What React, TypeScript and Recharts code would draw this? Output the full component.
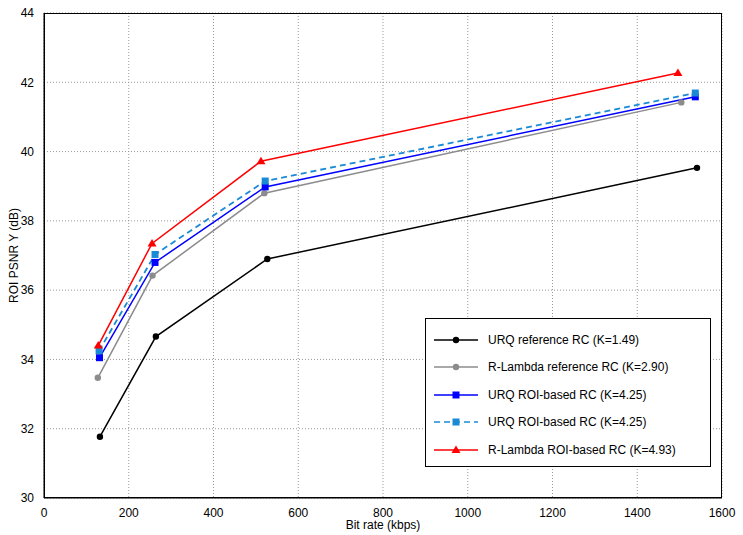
import React from 'react';
import { LineChart, Line, XAxis, YAxis, CartesianGrid } from 'recharts';

const urqRef = [[132, 31.77], [264, 34.66], [527, 36.9], [1541, 39.53]];
const rlRef = [[127, 33.47], [256, 36.42], [520, 38.8], [1504, 41.42]];
const urqRoi = [[131, 34.05], [262, 36.8], [522, 38.98], [1537, 41.58]];
const urqRoi2 = [[130, 34.25], [262, 37.03], [522, 39.15], [1537, 41.69]];
const rlRoi = [[128, 34.4], [255, 37.35], [512, 39.72], [1496, 42.27]];
const xTicks = [0, 200, 400, 600, 800, 1000, 1200, 1400, 1600];
const yTicks = [30, 32, 34, 36, 38, 40, 42, 44];

const series = [
  { name: 'URQ reference RC (K=1.49)', data: urqRef, color: '#000000', shape: 'circle', dash: undefined },
  { name: 'R-Lambda reference RC (K=2.90)', data: rlRef, color: '#8c8c8c', shape: 'circle', dash: undefined },
  { name: 'URQ ROI-based RC (K=4.25)', data: urqRoi, color: '#0000ff', shape: 'square', dash: undefined },
  { name: 'URQ ROI-based RC (K=4.25)', data: urqRoi2, color: '#1a8ad4', shape: 'square', dash: '6 4' },
  { name: 'R-Lambda ROI-based RC (K=4.93)', data: rlRoi, color: '#ff0000', shape: 'triangle', dash: undefined },
];

const Marker = ({ cx, cy, shape, color }: any) => {
  if (cx == null || cy == null) return null;
  if (shape === 'square') return <rect x={cx - 3.5} y={cy - 3.5} width={7} height={7} fill={color} />;
  if (shape === 'triangle') return <polygon points={`${cx},${cy - 4.5} ${cx - 4.5},${cy + 3} ${cx + 4.5},${cy + 3}`} fill={color} />;
  return <circle cx={cx} cy={cy} r={3.2} fill={color} />;
};

export default function App() {
  const font = { fontFamily: 'Liberation Sans, Arial, sans-serif', fontSize: 12, fill: '#000' };
  return (
    <div style={{ position: 'absolute', left: 0, top: 0, width: 743, height: 535, background: '#fff' }}>
      <LineChart width={743} height={535} margin={{ top: 13, right: 21, bottom: 2, left: 8 }}>
        <CartesianGrid stroke="#999" strokeDasharray="1 2" />
        <XAxis type="number" dataKey="x" domain={[0, 1600]} ticks={xTicks} height={35}
          tick={font} tickLine={false} tickMargin={4} axisLine={{ stroke: '#000' }}
          label={{ value: 'Bit rate (kbps)', position: 'insideBottom', offset: 4, style: font }} />
        <YAxis type="number" domain={[30, 44]} ticks={yTicks} width={36}
          tick={font} tickLine={false} tickMargin={4} axisLine={{ stroke: '#000' }}
          label={{ value: 'ROI PSNR Y (dB)', angle: -90, position: 'insideLeft', offset: 6, style: { ...font, textAnchor: 'middle' } }} />
        {series.map((s, i) => (
          <Line key={i} data={s.data.map(([x, y]) => ({ x, y }))} dataKey="y" type="linear"
            stroke={s.color} strokeWidth={i === 3 ? 1.8 : 1.5} strokeDasharray={s.dash}
            dot={(p: any) => <Marker key={p.index} cx={p.cx} cy={p.cy} shape={s.shape} color={s.color} />}
            isAnimationActive={false} />
        ))}
      </LineChart>
      <div style={{ position: 'absolute', left: 44, top: 13, width: 678, height: 485, border: '1px solid #000', boxSizing: 'border-box', pointerEvents: 'none' }} />
      <div style={{ position: 'absolute', left: 425, top: 318, width: 286, height: 149, border: '1px solid #000', background: '#fff',
        fontFamily: 'Liberation Sans, Arial, sans-serif', fontSize: 12, boxSizing: 'border-box', paddingTop: 7 }}>
        {series.map((s, i) => (
          <div key={i} style={{ display: 'flex', alignItems: 'center', height: 27.5 }}>
            <svg width={48} height={12} style={{ marginLeft: 6, marginRight: 8 }}>
              <line x1={2} y1={6} x2={46} y2={6} stroke={s.color} strokeWidth={1.5} strokeDasharray={s.dash} />
              <Marker cx={24} cy={6} shape={s.shape} color={s.color} />
            </svg>
            <span>{s.name}</span>
          </div>
        ))}
      </div>
    </div>
  );
}
